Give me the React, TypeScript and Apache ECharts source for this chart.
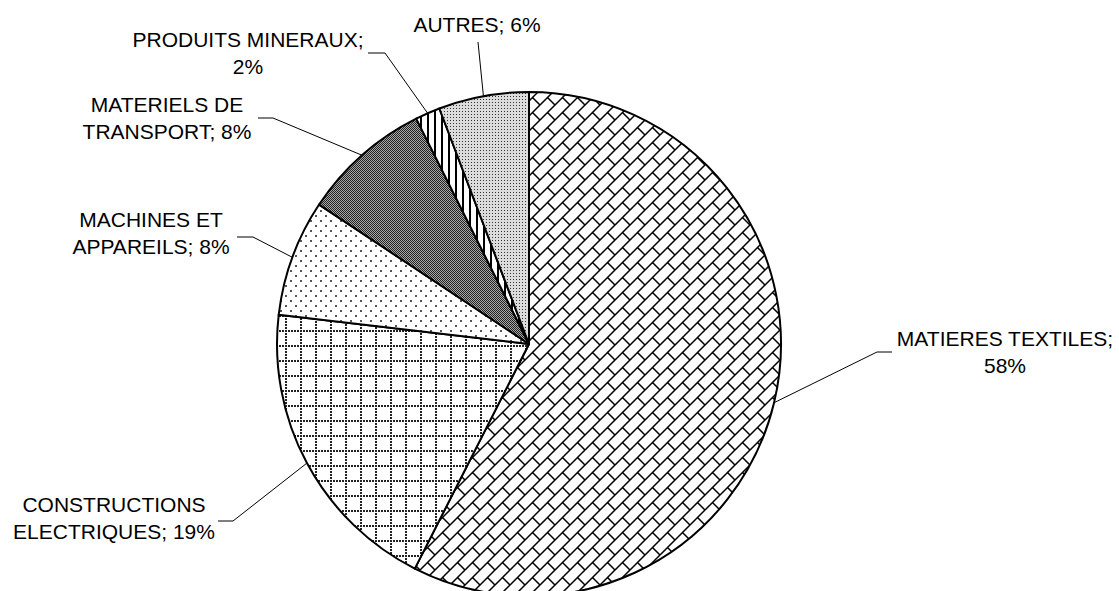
import React, { useEffect, useRef } from "react";
import * as echarts from "echarts";

// ---- data ----
const CATEGORIES = [
  "MATIERES TEXTILES",
  "CONSTRUCTIONS ELECTRIQUES",
  "MACHINES ET APPAREILS",
  "MATERIELS DE TRANSPORT",
  "PRODUITS MINERAUX",
  "AUTRES",
];
const VALUES = [57.6, 19.4, 7.5, 8.3, 1.6, 5.8];
// how each label is wrapped (text before the line break)
const LABEL_FIRST_LINE = [
  "MATIERES TEXTILES;",
  "CONSTRUCTIONS",
  "MACHINES ET",
  "MATERIELS DE",
  "PRODUITS MINERAUX;",
  "",
];

// ---- layout (label anchors, px) ----
const LABEL_LAYOUT = [
  { x: 1005, y: 352, elbow: [877, 352], end: [892, 352] },
  { x: 114, y: 518, elbow: [233, 521], end: [218, 521] },
  { x: 151, y: 233, elbow: [253, 237], end: [237, 237] },
  { x: 167, y: 118, elbow: [273, 118], end: [258, 118] },
  { x: 248, y: 53, elbow: [385, 53], end: [368, 53] },
  { x: 477, y: 24, elbow: [478, 42], end: [478, 42] },
];

function tile(w: number, h: number, draw: (c: CanvasRenderingContext2D) => void) {
  const cv = document.createElement("canvas");
  cv.width = w;
  cv.height = h;
  const c = cv.getContext("2d")!;
  draw(c);
  return { image: cv, repeat: "repeat" as const };
}

function makePatterns() {
  // diagonal brick
  const T = 15;
  const brick = tile(T, T, (c) => {
    c.fillStyle = "#fff";
    c.fillRect(0, 0, T, T);
    c.strokeStyle = "#000";
    c.lineWidth = 1.5;
    c.beginPath();
    for (const k of [0, 1, 2]) {
      c.moveTo(k * T + 1, -1);
      c.lineTo(k * T - T - 1, T + 1);
    }
    c.moveTo(T / 2, T / 2);
    c.lineTo(T + 1, T + 1);
    c.moveTo(-1, -1);
    c.lineTo(0.5, 0.5);
    c.stroke();
  });
  // dotted grid
  const G = 15;
  const grid = tile(G, G, (c) => {
    c.fillStyle = "#fff";
    c.fillRect(0, 0, G, G);
    c.fillStyle = "#222";
    for (let i = 0; i < G; i += 3) {
      c.fillRect(i, 0, 2, 2);
      c.fillRect(0, i, 2, 2);
    }
  });
  // sparse dots
  const D = 10;
  const sparse = tile(D, D, (c) => {
    c.fillStyle = "#fff";
    c.fillRect(0, 0, D, D);
    c.fillStyle = "#555";
    c.fillRect(0, 0, 2, 2);
    c.fillRect(5, 5, 2, 2);
  });
  // dark checker
  const dark = tile(2, 2, (c) => {
    c.fillStyle = "#222";
    c.fillRect(0, 0, 2, 2);
    c.fillStyle = "#a8a8a8";
    c.fillRect(1, 0, 1, 1);
    c.fillRect(0, 1, 1, 1);
  });
  // vertical stripes
  const stripes = tile(7, 1, (c) => {
    c.fillStyle = "#fff";
    c.fillRect(0, 0, 7, 1);
    c.fillStyle = "#000";
    c.fillRect(0, 0, 2, 1);
  });
  // fine dots
  const fine = tile(3, 3, (c) => {
    c.fillStyle = "#dcdcdc";
    c.fillRect(0, 0, 3, 3);
    c.fillStyle = "#333";
    c.fillRect(0, 0, 1, 1);
  });
  return [brick, grid, sparse, dark, stripes, fine];
}

export default function App() {
  const ref = useRef<HTMLDivElement>(null);
  useEffect(() => {
    const chart = echarts.init(ref.current!, null, { renderer: "svg" });
    const fills = makePatterns();
    chart.setOption({
      animation: false,
      backgroundColor: "#fff",
      series: [
        {
          type: "pie",
          center: [529, 344],
          radius: 252,
          startAngle: 90,
          clockwise: true,
          avoidLabelOverlap: false,
          emphasis: { disabled: true },
          itemStyle: { borderColor: "#000", borderWidth: 2 },
          data: CATEGORIES.map((name, i) => ({
            name,
            value: VALUES[i],
            itemStyle: { color: fills[i] },
          })),
          label: {
            show: true,
            position: "outside",
            fontFamily: "'Liberation Sans', Arial, sans-serif",
            fontSize: 21,
            lineHeight: 27,
            color: "#000",
            formatter: (p: any) => {
              const i = p.dataIndex;
              const pct = Math.round(VALUES[i]) + "%";
              const first = LABEL_FIRST_LINE[i];
              if (!first) return p.name + "; " + pct;
              if (first.endsWith(";")) return first + "\n" + pct;
              return first + "\n" + p.name.slice(first.length + 1) + "; " + pct;
            },
          },
          labelLine: { show: true, lineStyle: { color: "#000", width: 1 } },
          labelLayout: (params: any) => {
            const a = LABEL_LAYOUT[params.dataIndex];
            const p0 = params.labelLinePoints ? params.labelLinePoints[0] : a.elbow;
            return {
              x: a.x,
              y: a.y,
              align: "center",
              verticalAlign: "middle",
              labelLinePoints: [p0, a.elbow, a.end],
            };
          },
        },
      ],
    });
    return () => chart.dispose();
  }, []);
  return (
    <div
      ref={ref}
      style={{ position: "fixed", left: 0, top: 0, width: 1119, height: 591, background: "#fff" }}
    />
  );
}
